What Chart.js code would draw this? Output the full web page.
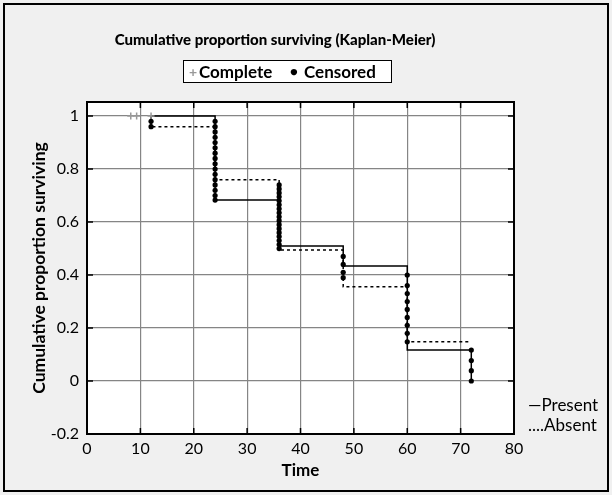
<!DOCTYPE html>
<html>
<head>
<meta charset="utf-8">
<script src="https://cdn.jsdelivr.net/npm/chart.js@4.4.0/dist/chart.umd.min.js"></script>
<style>
  body { margin: 0; background: #f0f0f0; }
  #wrap { position: relative; width: 612px; height: 495px; }
  #frame { position: absolute; left: 3px; top: 3px; width: 602px; height: 485px; border: 2px solid #000; pointer-events: none; }
  canvas { position: absolute; left: 0; top: 0; }
  .txt { position: absolute; font-family: Lato, "DejaVu Sans", sans-serif; font-size: 17px; color: #000; white-space: nowrap; }
  #title { position: absolute; left: 75px; width: 400px; top: 30px; text-align: center; font-family: Lato, "DejaVu Sans", sans-serif; font-size: 15px; font-weight: 900; color: #000; }
  #legbox { position: absolute; left: 183px; top: 60px; width: 207px; height: 21px; background: #fff; border: 1.5px solid #000; }
</style>
</head>
<body>
<div id="wrap">
  <canvas id="myChart" width="612" height="495"></canvas>
  <div id="title">Cumulative proportion surviving (Kaplan-Meier)</div>
  <div id="legbox">
    <span class="txt" style="left:5px;top:2px;color:#999;font-size:14px;font-weight:bold">+</span>
    <span class="txt" style="left:15px;top:0px;font-weight:bold">Complete</span>
    <span class="txt" style="left:106px;top:2px;font-size:13px">●</span>
    <span class="txt" style="left:120px;top:0px;font-weight:bold">Censored</span>
  </div>
  <span class="txt" style="left:528px;top:394px">—Present</span>
  <span class="txt" style="left:528px;top:414px">....Absent</span>
  <div id="frame"></div>
</div>
<script>
const FONT = 'Lato, "DejaVu Sans", sans-serif';

// Kaplan-Meier steps (time, proportion surviving)
const presentTimes = [12, 24, 36, 48, 60, 72];
const presentSurv = [1, 0.683, 0.51, 0.434, 0.117, 0];
const absentTimes = [12, 12, 24, 36, 48, 60, 72];
const absentSurv = [1, 0.96, 0.76, 0.494, 0.356, 0.148, 0.148];

// complete observations (grey +)
const completeTimes = [8.2, 9.3, 12];
const completeSurv = [1, 1, 1];

// censored observations (black dots)
const censoredTimes = [12, 12,
  24, 24, 24, 24, 24, 24, 24, 24, 24, 24, 24, 24, 24, 24, 24, 24,
  36, 36, 36, 36, 36, 36, 36, 36, 36, 36, 36, 36, 36, 36, 36, 36, 36,
  48, 48, 48, 48,
  60, 60, 60, 60, 60, 60, 60, 60, 60,
  72, 72, 72, 72];
const censoredSurv = [0.98, 0.96,
  0.98, 0.96, 0.94, 0.92, 0.90, 0.88, 0.86, 0.84, 0.82, 0.80, 0.78, 0.76, 0.74, 0.72, 0.70, 0.683,
  0.74, 0.725, 0.71, 0.695, 0.68, 0.665, 0.65, 0.635, 0.62, 0.605, 0.59, 0.575, 0.56, 0.545, 0.53, 0.515, 0.50,
  0.47, 0.44, 0.41, 0.39,
  0.40, 0.36, 0.33, 0.30, 0.27, 0.24, 0.21, 0.18, 0.148,
  0.117, 0.077, 0.039, 0];

const xTicks = [0, 10, 20, 30, 40, 50, 60, 70, 80];
const yTicks = [-0.2, 0, 0.2, 0.4, 0.6, 0.8, 1];

function pts(xs, ys) {
  return xs.map((x, i) => ({x: x, y: ys[i]}));
}

// white plot area, box and little inside tick marks
const plotBox = {
  id: 'plotBox',
  beforeDraw(chart) {
    const a = chart.chartArea, ctx = chart.ctx;
    ctx.save();
    ctx.fillStyle = '#fff';
    ctx.fillRect(a.left, a.top, a.right - a.left, a.bottom - a.top);
    ctx.restore();
  },
  afterDraw(chart) {
    const a = chart.chartArea, ctx = chart.ctx;
    const sx = chart.scales.x, sy = chart.scales.y;
    ctx.save();
    ctx.strokeStyle = '#000';
    ctx.lineWidth = 1.5;
    ctx.beginPath();
    yTicks.forEach(v => {
      const p = sy.getPixelForValue(v);
      ctx.moveTo(a.left, p); ctx.lineTo(a.left + 6, p);
      ctx.moveTo(a.right, p); ctx.lineTo(a.right - 6, p);
    });
    xTicks.forEach(v => {
      const p = sx.getPixelForValue(v);
      ctx.moveTo(p, a.top); ctx.lineTo(p, a.top + 6);
      ctx.moveTo(p, a.bottom); ctx.lineTo(p, a.bottom - 6);
    });
    ctx.stroke();
    ctx.lineWidth = 2;
    ctx.strokeRect(a.left, a.top, a.right - a.left, a.bottom - a.top);
    ctx.restore();
  }
};

let myChart = document.getElementById('myChart').getContext('2d');

let chart = new Chart(myChart, {
  type: 'line',
  data: {
    datasets: [{
      label: 'Censored',
      data: pts(censoredTimes, censoredSurv),
      showLine: false,
      pointRadius: 2.6,
      pointBackgroundColor: '#000',
      pointBorderColor: '#000',
      pointBorderWidth: 0,
      order: 0
    }, {
      label: 'Complete',
      data: pts(completeTimes, completeSurv),
      showLine: false,
      pointStyle: 'cross',
      pointRadius: 3.5,
      pointBorderColor: '#999',
      pointBorderWidth: 1.5,
      order: 0
    }, {
      label: 'Present',
      data: pts(presentTimes, presentSurv),
      stepped: 'before',
      borderColor: '#000',
      borderWidth: 1.5,
      pointRadius: 0,
      fill: false,
      order: 1
    }, {
      label: 'Absent',
      data: pts(absentTimes, absentSurv),
      stepped: 'before',
      borderColor: '#000',
      borderWidth: 1.5,
      borderDash: [3, 3],
      pointRadius: 0,
      fill: false,
      order: 1
    }]
  },
  options: {
    responsive: false,
    animation: false,
    layout: { padding: { left: 0, right: 98, top: 102, bottom: 0 } },
    plugins: {
      legend: { display: false },
      tooltip: { enabled: false },
      title: { display: false }
    },
    scales: {
      x: {
        type: 'linear',
        min: 0,
        max: 80,
        afterBuildTicks: s => { s.ticks = xTicks.map(v => ({value: v})); },
        afterFit: s => { s.height = 61; },
        ticks: { color: '#000', font: { family: FONT, size: 16 }, padding: 5 },
        grid: { color: '#858585', lineWidth: 1.2, drawTicks: false },
        border: { display: false },
        title: {
          display: true,
          text: 'Time',
          color: '#000',
          font: { family: FONT, size: 17, weight: 'bold' },
          padding: { top: 0, bottom: 14 }
        }
      },
      y: {
        type: 'linear',
        min: -0.2,
        max: 1.053,
        afterBuildTicks: s => { s.ticks = yTicks.map(v => ({value: v})); },
        afterFit: s => { s.width = 87; },
        ticks: { color: '#000', font: { family: FONT, size: 16 }, padding: 8, callback: v => String(v) },
        grid: { color: '#858585', lineWidth: 1.2, drawTicks: false },
        border: { display: false },
        title: {
          display: true,
          text: 'Cumulative proportion surviving',
          color: '#000',
          font: { family: FONT, size: 17.5, weight: 'bold' },
          padding: { top: 29, bottom: 0 }
        }
      }
    }
  },
  plugins: [plotBox]
});
</script>
</body>
</html>
